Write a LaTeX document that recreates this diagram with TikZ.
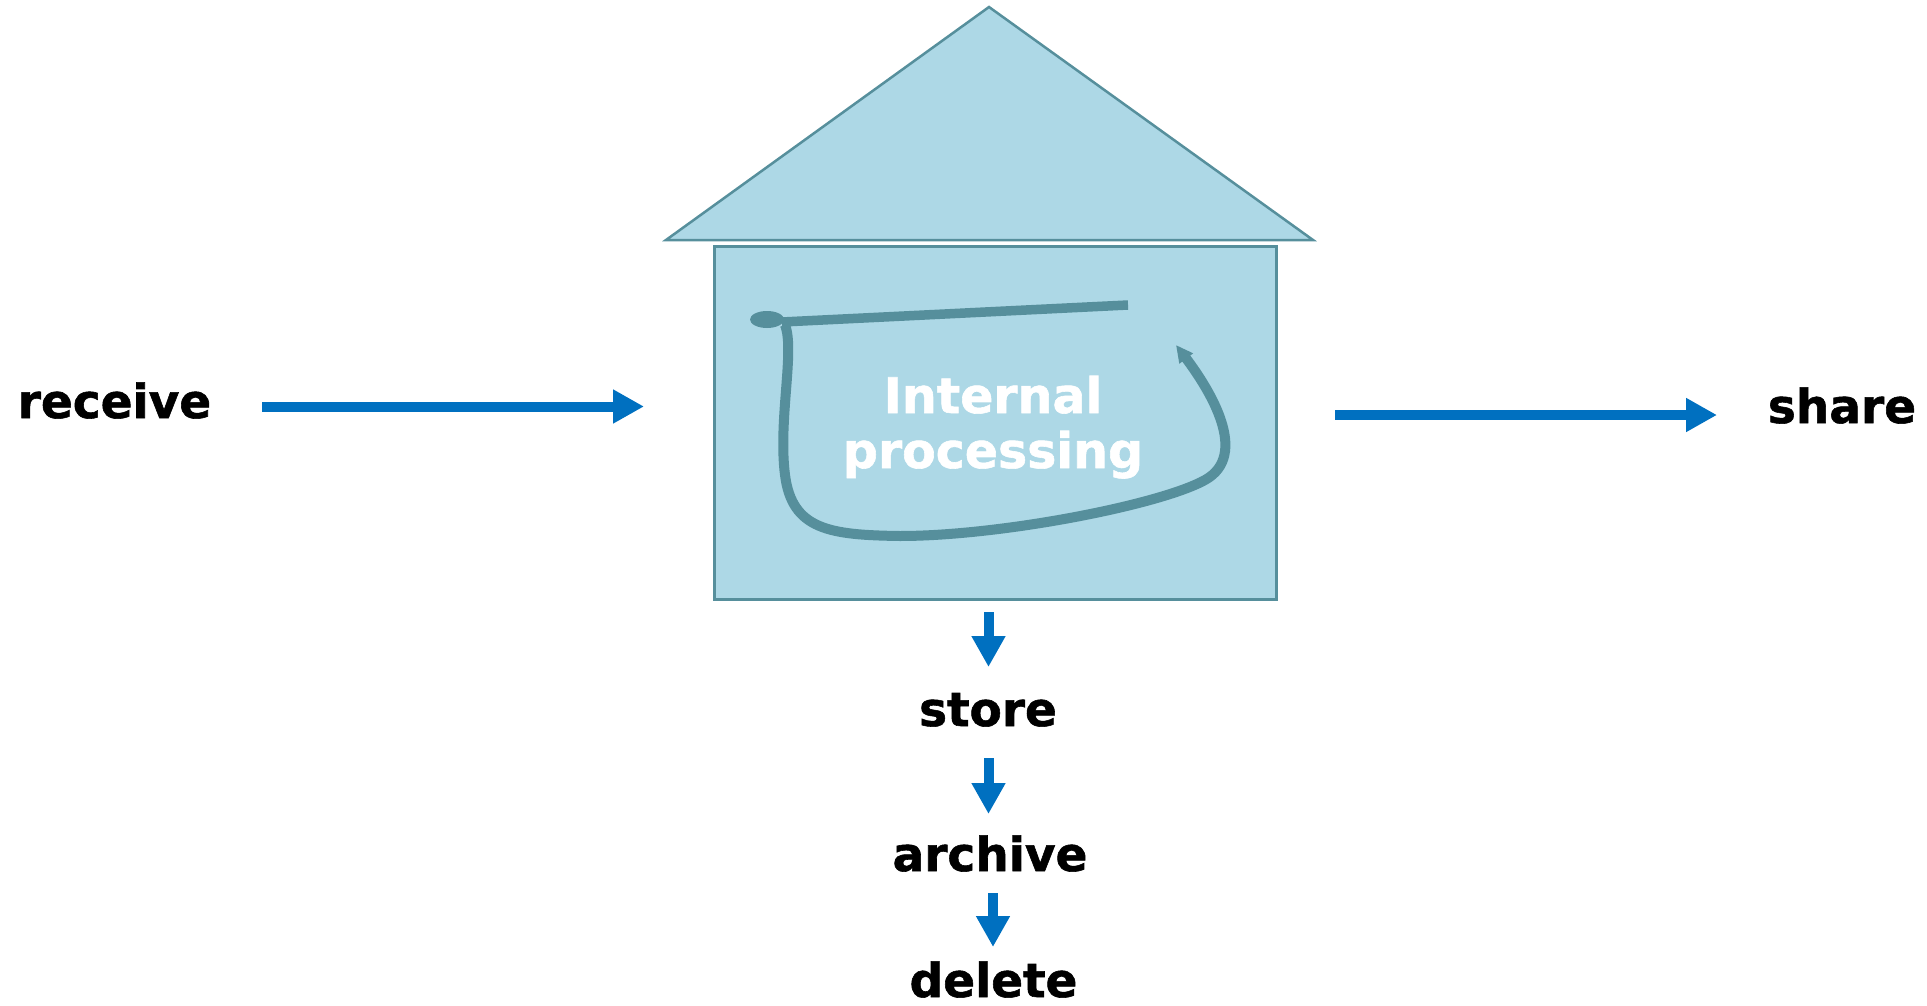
\documentclass[tikz,border=0pt]{standalone}
\usepackage{fontspec}
\setmainfont{DejaVu Sans}
\newfontfamily\heavyfont{DejaVu Sans Bold}[FakeBold=1.2]
\usetikzlibrary{arrows.meta}
\definecolor{arrowblue}{HTML}{0070C0}
\definecolor{housestroke}{HTML}{568F9C}
\definecolor{housefill}{HTML}{ADD8E6}
\begin{document}
\begin{tikzpicture}[x=1pt,y=-1pt,
  lbl/.style={font=\fontsize{47}{55}\selectfont\heavyfont, inner sep=0pt, anchor=base},
  proctext/.style={font=\fontsize{49}{55}\selectfont\heavyfont, text=white, inner sep=0pt, anchor=base},
  flowarrow/.style={draw=arrowblue, line width=10pt, -{Triangle[length=31pt,width=32pt,fill=arrowblue]}},
  housepart/.style={draw=housestroke, fill=housefill, line width=2.5pt},
  loopline/.style={draw=housestroke, line width=10pt}]
\useasboundingbox (0,0) rectangle (1927,1006);

% roof
\draw[housepart, line join=miter] (666,240) -- (989,7) -- (1313,240) -- cycle;
% box
\node[housepart, anchor=north west, minimum width=562pt, minimum height=353pt, inner sep=0pt] (box) at (713,245) {};

% internal processing loop
\fill[housestroke] (767,319.5) ellipse [x radius=17pt, y radius=8.5pt];
\draw[loopline, line width=9.5pt] (1128,305) -- (782,322);
\coordinate (l0) at (785,325);
\coordinate (l1) at (785,475);
\coordinate (l2) at (900,536);
\coordinate (l3) at (1205,480);
\coordinate (l4) at (1176,345);
\draw[loopline, -{Triangle[length=17pt,width=16pt]}]
  (l0) .. controls (795,350) and (778,420) .. (l1)
       .. controls (792,530) and (830,535) .. (l2)
       .. controls (1000,536) and (1160,505) .. (l3)
       .. controls (1250,455) and (1210,390) .. (l4);
\node[proctext] (proc1) at (993,413) {Internal};
\node[proctext] (proc2) at (993,468) {processing};

% labels
\node[lbl] (receive) at (114.5,418) {receive};
\node[lbl] (share) at (1842,423) {share};
\node[lbl] (store) at (988,726) {store};
\node[lbl] (archive) at (990,871) {archive};
\node[lbl] (delete) at (993.5,997) {delete};

% arrow end points
\coordinate (r0) at (262,406.5);
\coordinate (r1) at (644,406.5);
\coordinate (s0) at (1335,415);
\coordinate (s1) at (1717,415);
\coordinate (d0) at (988.5,612);
\coordinate (d1) at (988.5,667);
\coordinate (a0) at (988.5,758);
\coordinate (a1) at (988.5,814);
\coordinate (e0) at (993,893);
\coordinate (e1) at (993,947);

\draw[flowarrow] (r0) -- (r1);
\draw[flowarrow] (s0) -- (s1);
\draw[flowarrow] (d0) -- (d1);
\draw[flowarrow] (a0) -- (a1);
\draw[flowarrow] (e0) -- (e1);
\end{tikzpicture}
\end{document}
